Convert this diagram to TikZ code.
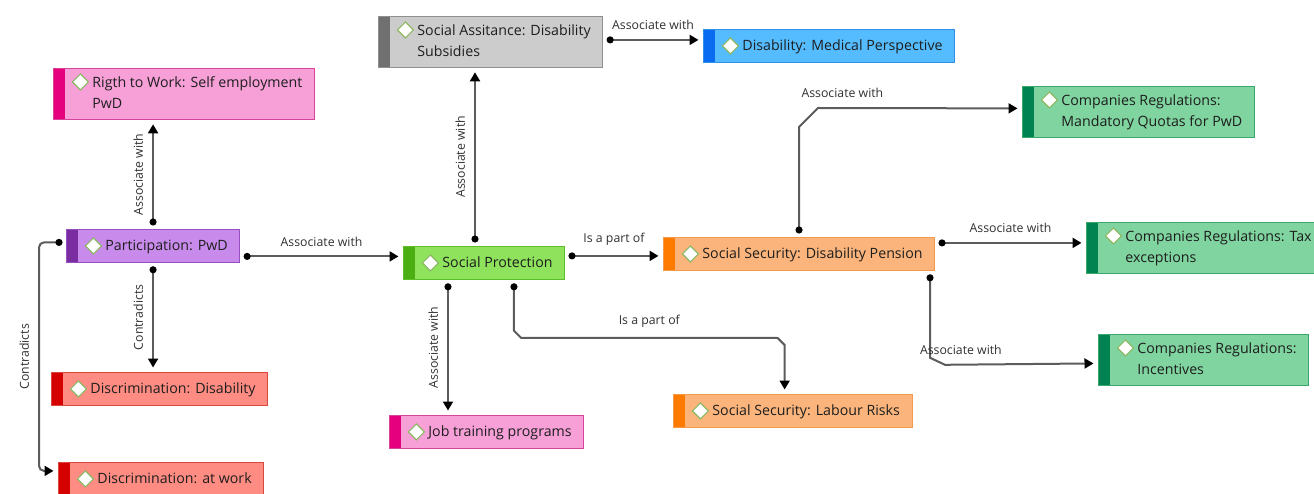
\documentclass[tikz,border=0pt]{standalone}
\usepackage{fontspec}
\setmainfont{Open Sans}
\usetikzlibrary{arrows.meta}
\definecolor{textc}{HTML}{1E1E1E}
\definecolor{lblc}{HTML}{303030}
\definecolor{linec}{HTML}{5C5C5C}
\definecolor{diamondc}{HTML}{8DB865}
\definecolor{pinkfill}{HTML}{F7A0D8}\definecolor{pinkbar}{HTML}{E5007D}\definecolor{pinkline}{HTML}{D9449A}
\definecolor{grayfill}{HTML}{CCCCCC}\definecolor{graybar}{HTML}{707070}\definecolor{grayline}{HTML}{8F8F8F}
\definecolor{bluefill}{HTML}{55BCFF}\definecolor{bluebar}{HTML}{0A6CF0}\definecolor{blueline}{HTML}{3090E8}
\definecolor{greenfill}{HTML}{7FD49F}\definecolor{greenbar}{HTML}{008350}\definecolor{greenline}{HTML}{3AA56C}
\definecolor{purplefill}{HTML}{C98BEB}\definecolor{purplebar}{HTML}{7A2DA0}\definecolor{purpleline}{HTML}{9850BE}
\definecolor{limefill}{HTML}{8EE25C}\definecolor{limebar}{HTML}{4BAE12}\definecolor{limeline}{HTML}{5EBD2B}
\definecolor{orangefill}{HTML}{FBB57C}\definecolor{orangebar}{HTML}{FF7B00}\definecolor{orangeline}{HTML}{F29B4C}
\definecolor{redfill}{HTML}{FF8C82}\definecolor{redbar}{HTML}{D50000}\definecolor{redline}{HTML}{D9473F}
\newcommand{\ctxt}[1]{\begin{tabular}{@{\hspace{27pt}}l@{}}#1\end{tabular}}
\tikzset{
  barcol/.store in=\barcol, barcol=black,
  diay/.store in=\diay, diay=16.5pt,
  concept/.style={rectangle, anchor=north west, line width=0.8pt, inner xsep=12pt, inner ysep=4.5pt,
    minimum height=33pt, text=textc, font=\fontsize{14.2}{21}\selectfont,
    path picture={
      \path[fill=\barcol] (path picture bounding box.north west) rectangle ([xshift=12pt]path picture bounding box.south west);
      \filldraw[fill=white, draw=diamondc, line width=1.1pt] ([shift={(27pt,-\diay)}]path picture bounding box.north west)
        +(0,8pt) -- +(8pt,0) -- +(0,-8pt) -- +(-8pt,0) -- cycle;
    }},
  twoline/.style={diay=13.5pt},
  pinkc/.style={concept, draw=pinkline, fill=pinkfill, barcol=pinkbar},
  grayc/.style={concept, draw=grayline, fill=grayfill, barcol=graybar},
  bluec/.style={concept, draw=blueline, fill=bluefill, barcol=bluebar},
  greenc/.style={concept, draw=greenline, fill=greenfill, barcol=greenbar},
  purplec/.style={concept, draw=purpleline, fill=purplefill, barcol=purplebar},
  limec/.style={concept, draw=limeline, fill=limefill, barcol=limebar},
  orangec/.style={concept, draw=orangeline, fill=orangefill, barcol=orangebar},
  redc/.style={concept, draw=redline, fill=redfill, barcol=redbar},
  link/.style={draw=linec, line width=2pt,
    {Circle[length=7pt,color=black]}-{Triangle[length=9pt,width=10pt,color=black]},
    shorten <=3.5pt, shorten >=4.5pt},
  lbl/.style={font=\fontsize{12.3}{14}\selectfont, text=lblc, inner sep=2pt, outer ysep=8pt, outer xsep=0pt}
}

\begin{document}
\begin{tikzpicture}[x=1pt,y=-1pt]
\useasboundingbox (0,0) rectangle (1314,494);

\node[pinkc, twoline] (rigth) at (53,68) {\ctxt{Rigth to Work: Self employment\\PwD}};
\node[grayc, twoline] (assist) at (378,16) {\ctxt{Social Assitance: Disability\\Subsidies}};
\node[bluec] (medical) at (703,29) {\ctxt{Disability: Medical Perspective}};
\node[greenc, twoline] (quotas) at (1022,86) {\ctxt{Companies Regulations:\\Mandatory Quotas for PwD}};
\node[purplec] (part) at (66,229) {\ctxt{Participation: PwD}};
\node[limec] (prot) at (403,246) {\ctxt{Social Protection}};
\node[orangec] (pension) at (663,237) {\ctxt{Social Security: Disability Pension}};
\node[greenc, twoline] (tax) at (1086,222) {\ctxt{Companies Regulations: Tax\\exceptions}};
\node[greenc, twoline] (incent) at (1098,334) {\ctxt{Companies Regulations:\\Incentives}};
\node[redc] (discDis) at (51,372) {\ctxt{Discrimination: Disability}};
\node[redc] (discWork) at (58,462) {\ctxt{Discrimination: at work}};
\node[pinkc] (jobs) at (389,415) {\ctxt{Job training programs}};
\node[orangec] (risks) at (673,394) {\ctxt{Social Security: Labour Risks}};

\draw[link] (part.north) -- node[lbl, rotate=90, anchor=south] {Associate with} (part.north |- rigth.south);
\draw[link] (part.south) -- node[lbl, rotate=90, anchor=south] {Contradicts} (part.south |- discDis.north);
\draw[link, rounded corners=5pt] ([yshift=3.5pt]part.west) -- ++(-27,0)
  |- node[lbl, pos=0.25, rotate=90, anchor=south] {Contradicts} ([yshift=8pt]discWork.west);
\draw[link] ([yshift=-10.5pt]part.east) -- node[lbl, above] {Associate with} ([yshift=-10.5pt]part.east -| prot.west);

\draw[link] ([xshift=-9pt]prot.north) -- node[lbl, rotate=90, anchor=south] {Associate with} ([xshift=-9pt]prot.north |- assist.south);
\draw[link] ([yshift=2pt]assist.east) -- node[lbl, above] {Associate with} ([yshift=2pt]assist.east -| medical.west);
\draw[link] ([yshift=7pt]prot.east) -- node[lbl, above] {Is a part of} ([yshift=7pt]prot.east -| pension.west);
\draw[link] ([xshift=-36pt]prot.south) -- node[lbl, rotate=90, anchor=south] {Associate with} ([xshift=-36pt]prot.south |- jobs.north);
\draw[link] ([xshift=30pt]prot.south) -- ++(0,51) -- ++(7,7)
  -- node[lbl, above] {Is a part of} ([shift={(-15pt,56pt)}]risks.north) -- ++(7,7) -- ([xshift=-8pt]risks.north);

\draw[link] (pension.north) -- ++(0,-110) -- ++(19,-19)
  -- node[lbl, pos=0, anchor=south west, xshift=-18.5pt] {Associate with} ([yshift=3.5pt]quotas.west);
\draw[link] ([yshift=11pt]pension.east) -- node[lbl, above] {Associate with} ([yshift=11pt]pension.east -| tax.west);
\draw[link] ([xshift=-5pt]pension.south east) -- ++(0,87) -- ++(15,7)
  -- node[lbl, pos=0, anchor=south west, xshift=-27pt] {Associate with} ([yshift=-3.5pt]incent.west);
\end{tikzpicture}
\end{document}
